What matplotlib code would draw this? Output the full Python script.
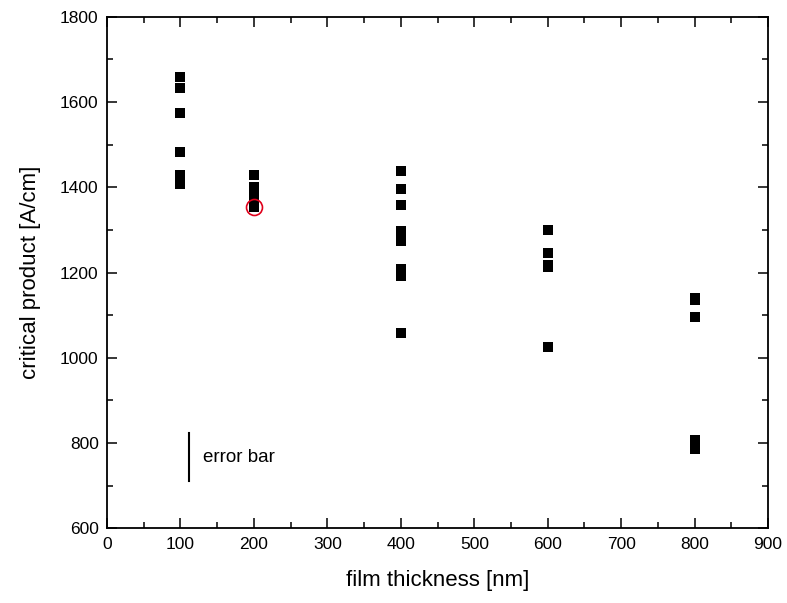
import matplotlib
matplotlib.use("Agg")
import matplotlib.pyplot as plt
from matplotlib.ticker import MultipleLocator

plt.rcParams['font.family'] = ['Liberation Sans', 'DejaVu Sans']

# film thickness (nm) and measured critical product (A/cm)
thickness_100 = [1658, 1633, 1575, 1484, 1428, 1418, 1407]
thickness_200 = [1428, 1400, 1390, 1378, 1365, 1355]
thickness_400 = [1439, 1396, 1359, 1298, 1273, 1209, 1191, 1057]
thickness_600 = [1300, 1247, 1218, 1212, 1025]
thickness_800 = [1140, 1135, 1095, 806, 796, 785]
groups = {100: thickness_100, 200: thickness_200, 400: thickness_400,
          600: thickness_600, 800: thickness_800}

highlight_x = 200
highlight_y = 1355

errbar_x = 112
errbar_lo = 710
errbar_hi = 823

fig = plt.figure(figsize=(7.87, 6.03), dpi=100)
ax = fig.add_axes([0.136, 0.124, 0.840, 0.848])

for x, vals in groups.items():
    ax.plot([x] * len(vals), vals, linestyle='none', marker='s',
            markersize=7.6, color='black', markeredgewidth=0)

ax.plot([highlight_x], [highlight_y], linestyle='none', marker='o',
        markersize=11.5, markerfacecolor='none', markeredgecolor='#e0001b',
        markeredgewidth=1.2)

ax.plot([errbar_x, errbar_x], [errbar_lo, errbar_hi], color='black', lw=1.5)
ax.text(errbar_x + 19, (errbar_lo + errbar_hi) / 2, 'error bar',
        fontsize=13.5, va='center', ha='left')

ax.set_xlim(0, 900)
ax.set_ylim(600, 1800)
ax.xaxis.set_major_locator(MultipleLocator(100))
ax.xaxis.set_minor_locator(MultipleLocator(50))
ax.yaxis.set_major_locator(MultipleLocator(200))
ax.yaxis.set_minor_locator(MultipleLocator(100))
ax.tick_params(which='both', direction='in', top=True, right=True,
               labelsize=12.5, width=1.1, pad=6)
ax.tick_params(which='major', length=7)
ax.tick_params(which='minor', length=4)
for s in ax.spines.values():
    s.set_linewidth(1.3)

ax.set_xlabel('film thickness [nm]', fontsize=16, labelpad=13)
ax.set_ylabel('critical product [A/cm]', fontsize=16, labelpad=14)

fig.savefig('out.png', dpi=100)
